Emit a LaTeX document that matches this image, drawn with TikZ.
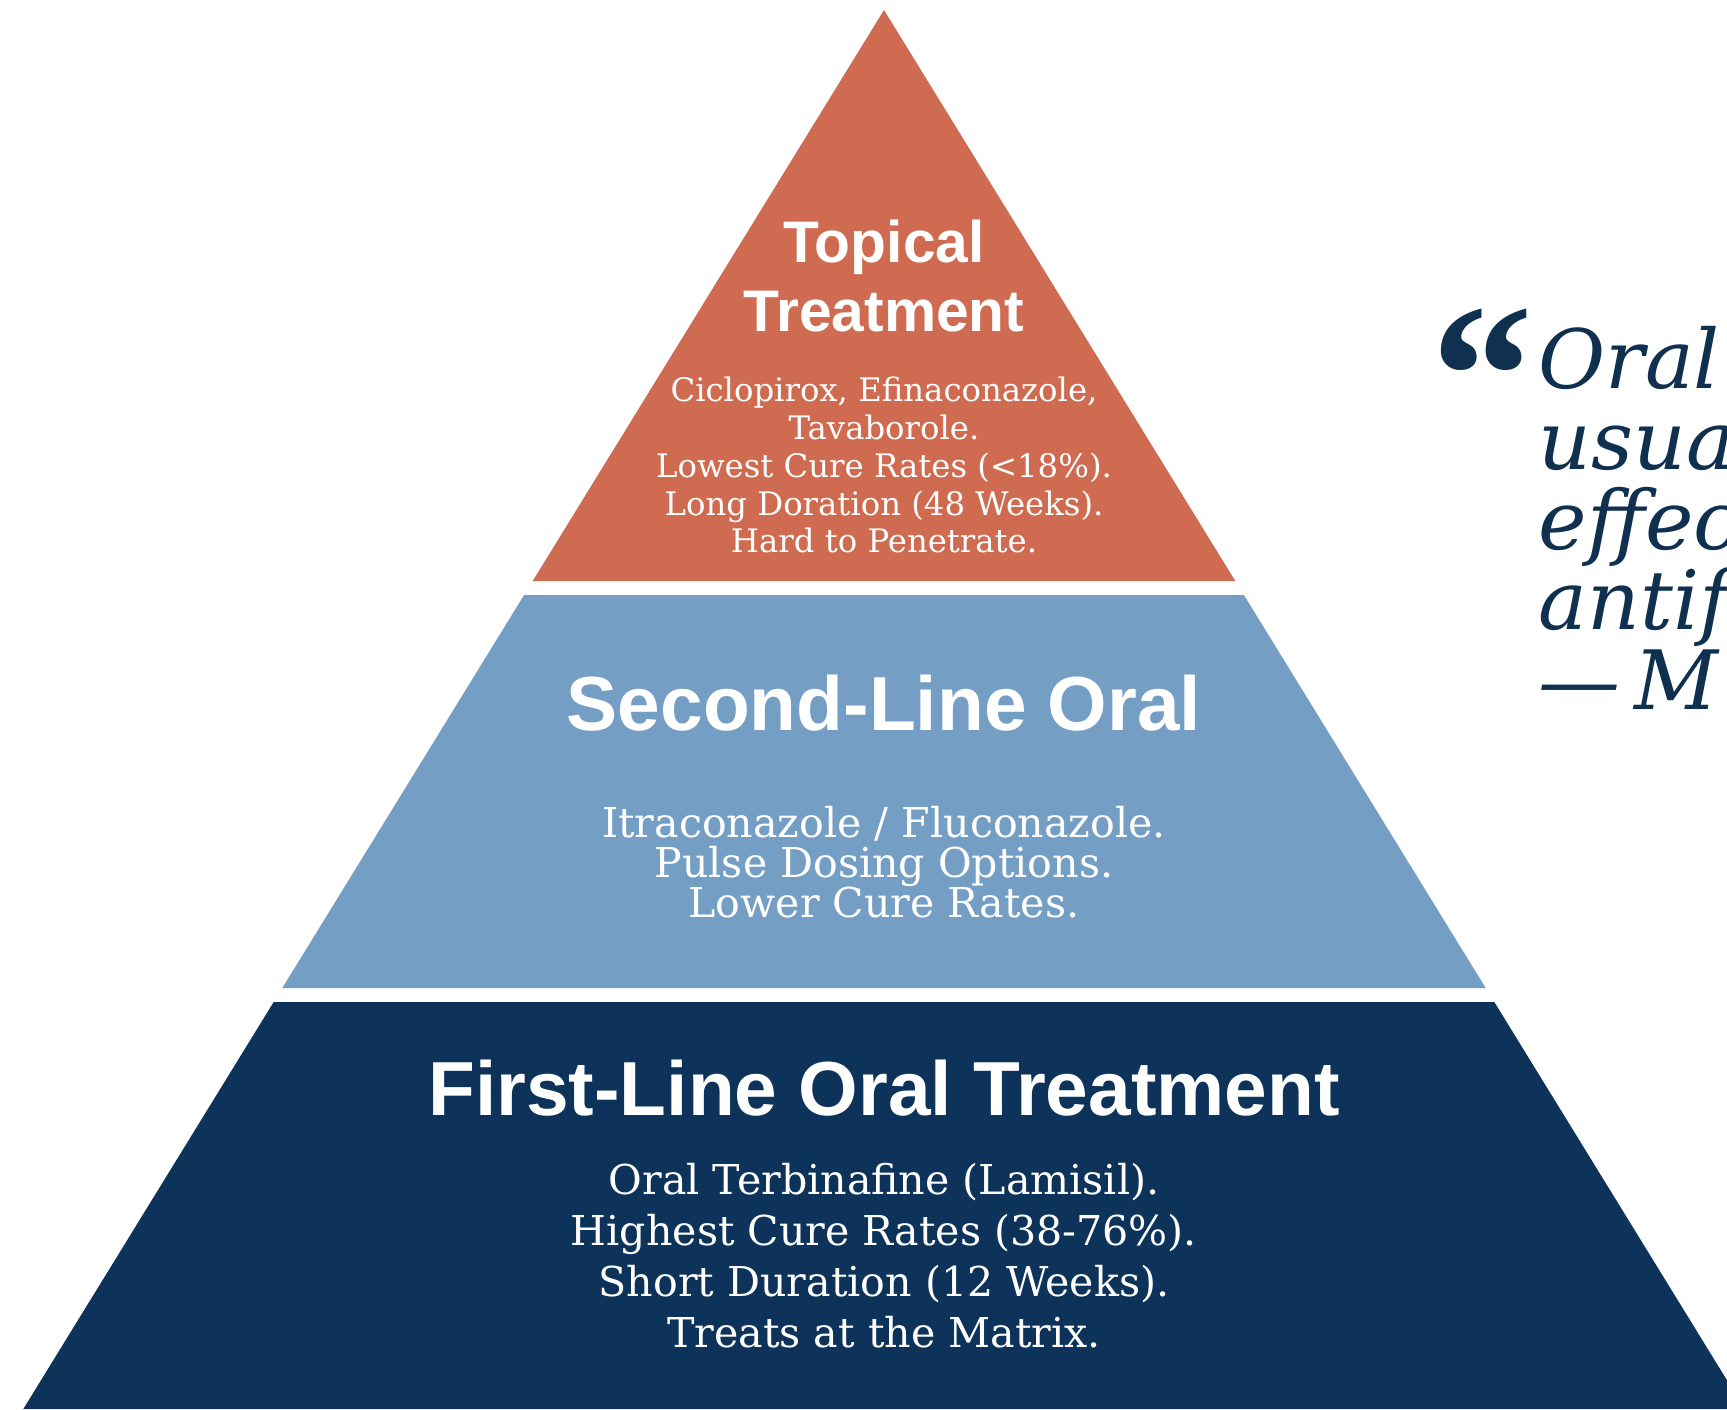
\documentclass[tikz,border=0pt]{standalone}
\usepackage{fontspec}
\setmainfont{DejaVu Serif}
\newfontfamily\titlefont{Liberation Sans}
\newfontfamily\markfont{Liberation Serif}

\definecolor{topicalred}{HTML}{CF6B51}
\definecolor{secondblue}{HTML}{749EC4}
\definecolor{firstnavy}{HTML}{0E335A}
\definecolor{quoteink}{HTML}{10304F}

\begin{document}
\begin{tikzpicture}[
  x=0.1mm, y=-0.1mm,
  tiertitle/.style={font=\titlefont\bfseries\fontsize{21.8}{24}\selectfont, text=white, inner sep=0pt, anchor=base},
  tierbody/.style={align=center, text=white, inner sep=0pt, font=\fontsize{11.7}{14.5}\selectfont},
  quoteline/.style={align=left, text=quoteink, inner sep=0pt, anchor=north west, font=\itshape\fontsize{23.3}{22.8}\selectfont}
]
\useasboundingbox (0,0) rectangle (1727,1409);
\clip (0,0) rectangle (1727,1409);
\fill[white] (0,0) rectangle (1727,1409);

% the three tiers, white gaps between them
\coordinate (apex) at (884,10);
\fill[topicalred] (apex) -- (1235.3,581) -- (532.7,581) -- cycle;
\fill[secondblue] (524.1,595) -- (1243.9,595) -- (1485.7,988) -- (282.3,988) -- cycle;
\fill[firstnavy] (273.7,1002) -- (1494.3,1002) -- (1744.7,1409) -- (23.3,1409) -- cycle;

% top tier
\node[tiertitle, anchor=center, align=center, font=\titlefont\bfseries\fontsize{16.7}{19.9}\selectfont] (topical) at (884,276) {Topical\\Treatment};
\node[tierbody, font=\fontsize{9.2}{10.8}\selectfont] (topicalbody) at (884,465) {Ciclopirox, Efinaconazole,\\Tavaborole.\\Lowest Cure Rates (<18\%).\\Long Doration (48 Weeks).\\Hard to Penetrate.};

% middle tier
\node[tiertitle] (second) at (884,730) {Second-Line Oral};
\node[tierbody, font=\fontsize{11.7}{11.4}\selectfont] (secondbody) at (884,862) {Itraconazole / Fluconazole.\\Pulse Dosing Options.\\Lower Cure Rates.};

% bottom tier
\node[tiertitle] (first) at (884,1115) {First-Line Oral Treatment};
\node[tierbody] (firstbody) at (884,1256) {Oral Terbinafine (Lamisil).\\Highest Cure Rates (38-76\%).\\Short Duration (12 Weeks).\\Treats at the Matrix.};

% quotation, runs off the right edge
\node[text=quoteink, inner sep=0pt, anchor=base, font=\markfont\bfseries\fontsize{58}{58}\selectfont] (mark) at (1482,444) {“};
\node[quoteline] (quote) at (1538,326) {Oral\\usua\\effec\\antif\\—\,M};
\end{tikzpicture}
\end{document}
